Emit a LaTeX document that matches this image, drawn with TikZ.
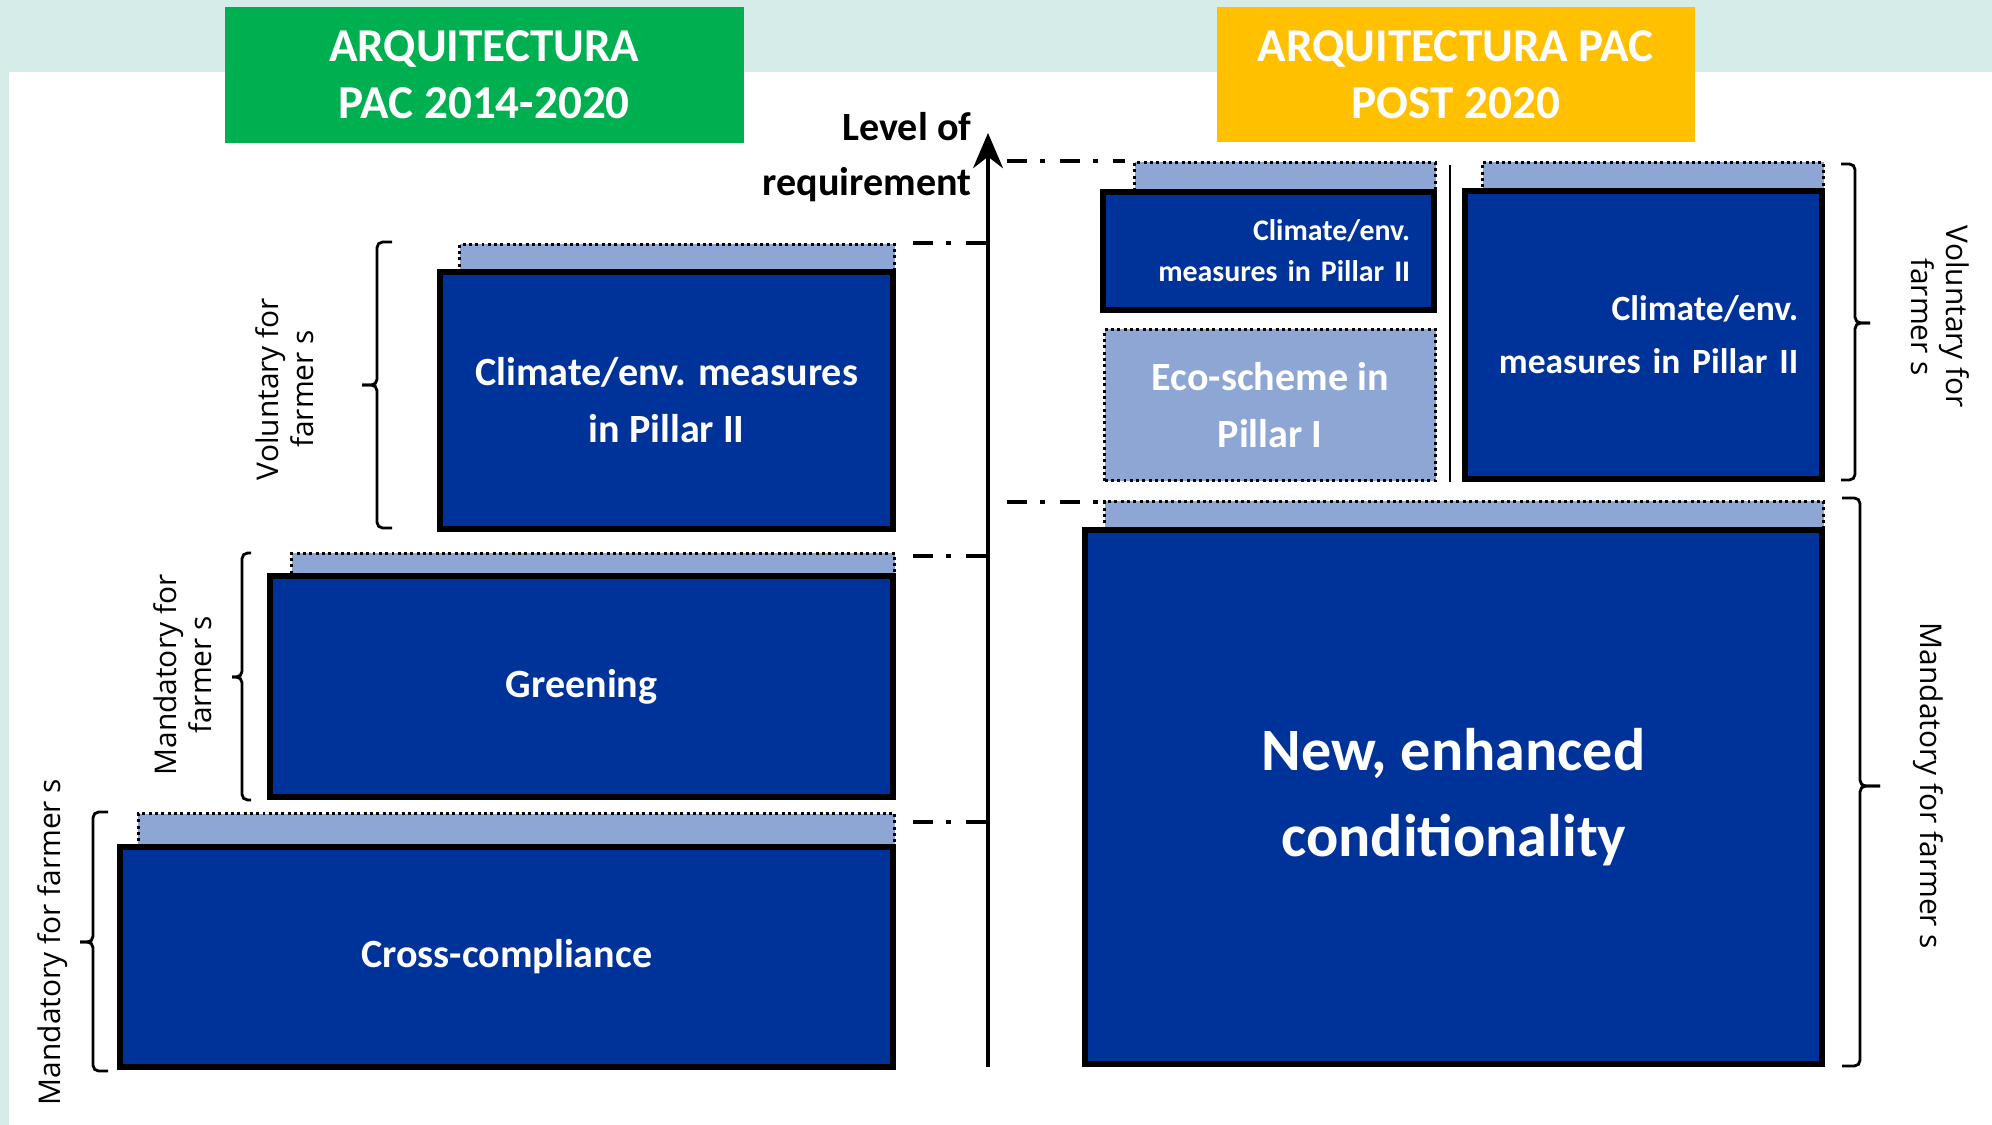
\documentclass[tikz,border=0pt]{standalone}
\usepackage{fontspec}
\setmainfont{Carlito}
\newfontfamily\sidefont{Open Sans}
\usetikzlibrary{arrows.meta,positioning}

\definecolor{pacblue}{RGB}{0,51,153}
\definecolor{paclight}{RGB}{142,166,212}
\definecolor{pacgreen}{RGB}{0,176,80}
\definecolor{pacyellow}{RGB}{255,192,0}
\definecolor{pacteal}{RGB}{214,236,233}

\newcommand{\fsz}[2]{\fontsize{#1}{#2}\selectfont}

\tikzset{
  titlebox/.style={fill=#1, text=white, font=\bfseries\fsz{13.4}{16.2}, align=center,
    inner sep=0pt, anchor=north west},
  mainbox/.style={draw=black, line width=1.7pt, fill=pacblue, text=white,
    font=\bfseries\fsz{11.4}{16.2}, align=center, inner sep=0pt, anchor=north west},
  band/.style={fill=paclight, draw=black, line width=0.85pt,
    dash pattern=on 0.85pt off 0.95pt, inner sep=0pt, anchor=north west},
  level/.style={line width=1pt, dash pattern=on 5.7pt off 3.7pt on 1.4pt off 4.3pt},
  axisline/.style={line width=1.15pt, -{Stealth[length=10pt,width=8.5pt]}},
  bracket/.style={line width=0.8pt, rounded corners=1.6pt},
  sidelabel/.style={font=\sidefont\fsz{8.5}{10}, align=center, inner sep=0pt}
}

\begin{document}
\begin{tikzpicture}[x=0.01cm, y=-0.01cm]
  \useasboundingbox (0,0) rectangle (1992,1125);
  % background
  \fill[pacteal] (0,0) rectangle (1992,1125);
  \fill[white] (9,72) rectangle (1992,1125);

  % titles
  \node[titlebox=pacgreen, minimum width=5.19cm, minimum height=1.36cm] (oldTitle) at (224,6)
    {ARQUITECTURA\\PAC 2014-2020};
  \node[titlebox=pacyellow, minimum width=4.78cm, minimum height=1.35cm] (newTitle) at (1216,6)
    {ARQUITECTURA PAC\\POST 2020};

  % requirement axis
  \coordinate (axisBot) at (988,1067);
  \coordinate (axisTop) at (988,133);
  \draw[axisline] (axisBot) -- (axisTop);
  \node[font=\bfseries\fsz{11.4}{15.6}, align=right, anchor=east, inner sep=0pt] (reqLabel)
    at (972,157) {Level of\\requirement};

  % CAP 2014-2020
  \node[band, minimum width=7.56cm, minimum height=0.32cm] (ccBand) at (137,812) {};
  \node[mainbox, minimum width=7.73cm, minimum height=2.20cm] (ccBox) at (117,844) {Cross-compliance};
  \node[band, minimum width=6.03cm, minimum height=0.23cm] (grBand) at (290,552) {};
  \node[mainbox, minimum width=6.23cm, minimum height=2.21cm] (grBox) at (267,573) {Greening};
  \node[band, minimum width=4.35cm, minimum height=0.28cm] (ceBand) at (458,243) {};
  \node[mainbox, minimum width=4.53cm, minimum height=2.57cm] (ceBox) at (437,269)
    {Climate/env. measures\\in Pillar II};

  \foreach \y in {822,556,243}
    \draw[level] (913,\y) -- (axisTop |- 0,\y);

  % CAP post 2020
  \node[band, minimum width=3.01cm, minimum height=0.3cm] (ceSmallBand) at (1133,161) {};
  \node[mainbox, minimum width=3.31cm, minimum height=1.18cm, font=\bfseries\fsz{8.5}{11.7},
    text width=2.83cm, align=right] (ceSmall) at (1100,189) {Climate/env.\\measures in Pillar II};
  \node[band, minimum width=3.31cm, minimum height=1.51cm, text=white, align=center,
    font=\bfseries\fsz{11.4}{16}] (ecoBox) at (1103,328) {Eco-scheme in\\Pillar I};
  \draw[line width=0.6pt] (1450,165) -- (1450,482);
  \node[band, minimum width=3.41cm, minimum height=0.3cm] (ceBigBand) at (1481,161) {};
  \node[mainbox, minimum width=3.57cm, minimum height=2.88cm, font=\bfseries\fsz{10.1}{15.1},
    text width=3.09cm, align=right] (ceBig) at (1462,188) {Climate/env.\\measures in Pillar II};
  \node[band, minimum width=7.19cm, minimum height=0.3cm] (ncBand) at (1103,500) {};
  \node[mainbox, minimum width=7.37cm, minimum height=5.34cm, font=\bfseries\fsz{17.1}{24.5}]
    (ncBox) at (1082,527) {New, enhanced\\conditionality};

  \draw[level] (1007,161) -- (1125,161);
  \draw[level] (1007,502) -- (1099,502);

  % brackets: end x / spine x / tip x / top y / middle y / bottom y
  \foreach \xe/\xs/\xt/\yt/\ym/\yb in {392/377/362/242/385/528, 251/242/232/553/677/800,
      108/93/80/812/942/1071, 1841/1855/1870/164/323/480, 1842/1860/1880/498/786/1066} {
    \draw[bracket] (\xe,\yt) -- (\xs,\yt) -- (\xs,\ym) -- (\xt,\ym);
    \draw[bracket] (\xt,\ym) -- (\xs,\ym) -- (\xs,\yb) -- (\xe,\yb);
  }

  \node[sidelabel, rotate=90] (volOld) at (285,389) {Voluntary for\\farmer s};
  \node[sidelabel, rotate=90] (manGreen) at (183,675) {Mandatory for\\farmer s};
  \node[sidelabel, rotate=90] (manCross) at (53,942) {Mandatory for farmer s};
  \node[sidelabel, rotate=-90] (volNew) at (1940,317) {Voluntary for\\farmer s};
  \node[sidelabel, rotate=-90] (manNew) at (1928,786) {Mandatory for farmer s};
\end{tikzpicture}
\end{document}
